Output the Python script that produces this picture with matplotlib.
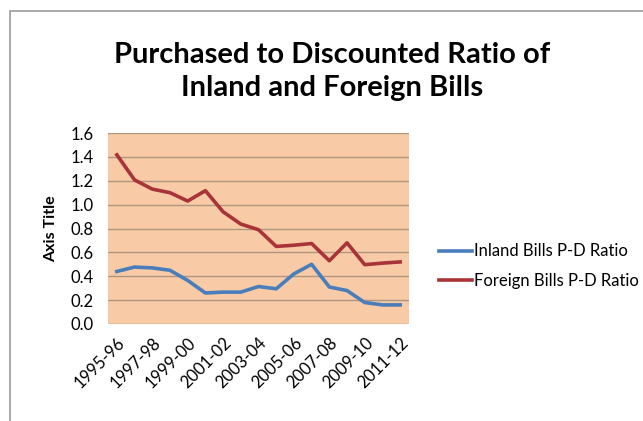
import numpy as np
from matplotlib import pyplot as plt
from matplotlib.patches import Rectangle

plt.rcParams['font.family'] = ['Lato', 'DejaVu Sans']

# anni
years = ['1995-96', '1996-97', '1997-98', '1998-99', '1999-00', '2000-01',
         '2001-02', '2002-03', '2003-04', '2004-05', '2005-06', '2006-07',
         '2007-08', '2008-09', '2009-10', '2010-11', '2011-12']

# rapporti P-D
inland = [0.44, 0.477, 0.47, 0.45, 0.365, 0.26, 0.267, 0.267, 0.314, 0.295,
          0.42, 0.50, 0.31, 0.28, 0.18, 0.16, 0.16]
foreign = [1.417, 1.207, 1.13, 1.10, 1.03, 1.117, 0.94, 0.837, 0.79, 0.65,
           0.66, 0.674, 0.53, 0.68, 0.497, 0.51, 0.52]

fig = plt.figure(figsize=(6.43, 4.21), dpi=100)
ax = fig.add_axes([108/643, 1-324/421, 301/643, 191/421])

# cornice del grafico
fig.add_artist(Rectangle((10/643, -0.1), 1.2, 1-11/421+0.1, transform=fig.transFigure,
                         fill=False, edgecolor='#9a9a9a', lw=1.2))

x = np.arange(len(years))
ax.set_facecolor('#f8cba6')
ax.plot(x, inland, color='#4a7ebb', lw=2.6, label='Inland Bills P-D Ratio')
ax.plot(x, foreign, color='#a8343a', lw=2.6, label='Foreign Bills P-D Ratio')

ax.set_xlim(-0.5, len(years) - 0.5)
ax.set_ylim(0, 1.6)
ax.set_yticks(np.arange(0, 1.61, 0.2))
ax.set_yticklabels(['%.1f' % v for v in np.arange(0, 1.61, 0.2)], fontsize=12)
ax.set_xticks(x[::2])
ax.set_xticklabels(years[::2], rotation=45, ha='right', rotation_mode='anchor', fontsize=12)
ax.tick_params(axis='y', length=0, pad=10)
ax.tick_params(axis='x', length=0, pad=8)
ax.grid(axis='y', color='#b09580', lw=1)
ax.set_axisbelow(True)
for s in ax.spines.values():
    s.set_visible(False)

ax.set_ylabel('Axis Title', fontsize=11.5, fontweight='bold', labelpad=9)
fig.text(0.517, 0.83, 'Purchased to Discounted Ratio of\nInland and Foreign Bills',
         ha='center', va='center', fontsize=21, fontweight='bold', linespacing=1.35)

ax.legend(loc='center left', bbox_to_anchor=(432/643, 1-266/421), bbox_transform=fig.transFigure,
          frameon=False, fontsize=12, handlelength=2.0, handletextpad=0.1, labelspacing=0.8,
          borderaxespad=0)

plt.savefig('out.png', dpi=100)
